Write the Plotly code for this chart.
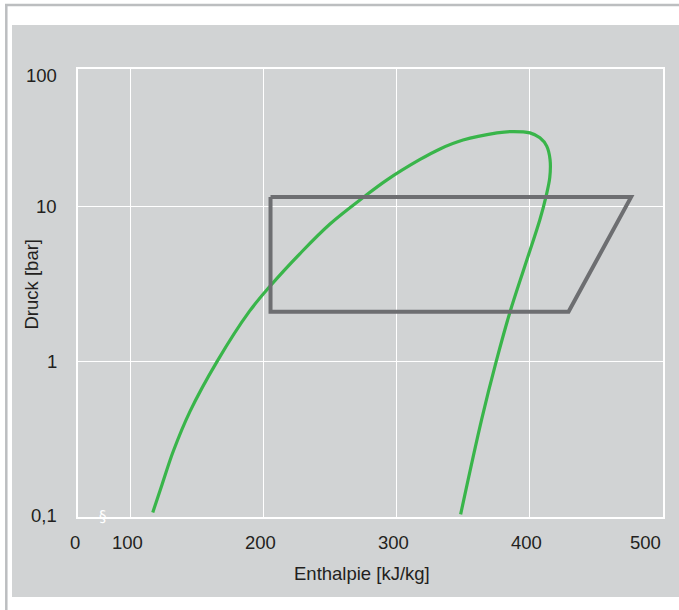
import math
import plotly.graph_objects as go

# Saturation dome (liquid branch -> critical region -> vapour branch)
h_sat = [116.5, 123.5, 131.9, 144.5, 165.0, 189.1, 205.1, 227.2, 249.7, 275.3,
         292.3, 317.4, 332.4, 349.7, 375.2, 385.0, 400.0, 407.5, 412.6, 415.1,
         414.9, 412.0, 407.5, 396.3, 385.0, 374.5, 363.7, 347.9]
p_sat = [0.107, 0.162, 0.265, 0.479, 1.01, 2.11, 3.10, 4.98, 7.72, 11.55,
         14.8, 20.1, 23.5, 26.8, 29.8, 30.4, 29.8, 27.7, 24.5, 20.1,
         15.4, 11.55, 8.25, 4.17, 2.09, 0.994, 0.425, 0.104]

# Refrigeration cycle
h_cycle = [205, 476, 429, 205, 205]
p_cycle = [11.5, 11.5, 2.1, 2.1, 11.5]

# Axis ticks (x axis is broken between 0 and 100)
x_min, x_max = 60.3, 500
x_tickvals = [x_min, 100, 200, 300, 400, 500]
x_ticktext = ["0", "100", "200", "300", "400", "500"]
y_top = 10 ** 1.886
y_tickvals = [0.1, 1, 10, y_top]
y_ticktext = ["0,1", "1", "10", "100"]

PANEL = "#d1d3d4"
TEXT = "#231f20"
FONT = "Liberation Sans, Arial, sans-serif"
FS = 18.5

fig = go.Figure()
fig.add_trace(go.Scatter(x=h_sat, y=p_sat, mode="lines",
                         line=dict(color="#39b54a", width=3.2, shape="spline", smoothing=1.0),
                         hoverinfo="skip", showlegend=False))
fig.add_trace(go.Scatter(x=h_cycle, y=p_cycle, mode="lines",
                         line=dict(color="#6d6e71", width=4),
                         hoverinfo="skip", showlegend=False))

L, R, T, B = 78, 16, 69, 93
W, H = 679, 610
pw, ph = W - L - R, H - T - B


def px_x(px):
    return (px - L) / pw


def px_y(py):
    return (H - B - py) / ph


annotations = []
for v, t in zip(x_tickvals, x_ticktext):
    a = dict(x=v, y=0, xref="x", yref="paper", text=t, showarrow=False,
             yanchor="top", yshift=-13, font=dict(family=FONT, size=FS, color=TEXT))
    if t == "500":
        a.update(xanchor="right")
    else:
        a.update(xanchor="center", xshift=-3)
    annotations.append(a)
for v, t in zip(y_tickvals, y_ticktext):
    a = dict(x=0, y=math.log10(v), xref="paper", yref="y", text=t, showarrow=False,
             xanchor="right", xshift=-19, yanchor="middle",
             font=dict(family=FONT, size=FS, color=TEXT))
    if t == "100":
        a.update(yshift=-6)
    if t == "0,1":
        a.update(yshift=2)
    annotations.append(a)

annotations.append(dict(x=px_x(362), y=px_y(573), xref="paper", yref="paper",
                        xanchor="center", yanchor="middle",
                        text="Enthalpie [kJ/kg]", showarrow=False,
                        font=dict(family=FONT, size=FS, color=TEXT)))
annotations.append(dict(x=px_x(30.5), y=px_y(285), xref="paper", yref="paper",
                        xanchor="center", yanchor="middle",
                        text="Druck [bar]", textangle=-90, showarrow=False,
                        font=dict(family=FONT, size=FS, color=TEXT)))
# axis break mark
annotations.append(dict(x=79.3, y=0, xref="x", yref="paper", text="§",
                        showarrow=False, yanchor="middle", xanchor="center",
                        font=dict(family="DejaVu Sans", size=15, color="white")))

shapes = [
    dict(type="rect", xref="paper", yref="paper", layer="below",
         x0=px_x(12), x1=px_x(W + 2), y0=px_y(597), y1=px_y(25),
         fillcolor=PANEL, line=dict(width=0)),
    dict(type="line", xref="paper", yref="paper",
         x0=px_x(5), x1=px_x(W + 2), y0=px_y(5), y1=px_y(5),
         line=dict(color="#bcbec0", width=2.5)),
    dict(type="line", xref="paper", yref="paper",
         x0=px_x(6.3), x1=px_x(6.3), y0=px_y(4), y1=px_y(H + 2),
         line=dict(color="#bcbec0", width=2.5)),
]

fig.update_layout(
    width=W, height=H,
    margin=dict(l=L, r=R, t=T, b=B),
    paper_bgcolor="white", plot_bgcolor=PANEL,
    annotations=annotations, shapes=shapes,
    xaxis=dict(range=[x_min, x_max], tickvals=x_tickvals, showticklabels=False,
               showgrid=True, gridcolor="white", gridwidth=1.3, zeroline=False,
               showline=True, linecolor="white", linewidth=1.5, mirror=True),
    yaxis=dict(type="log", range=[-1, math.log10(y_top)], tickvals=y_tickvals,
               showticklabels=False, showgrid=True, gridcolor="white", gridwidth=1.3,
               zeroline=False, showline=True, linecolor="white", linewidth=1.5, mirror=True),
)

fig.write_html("out.html")
